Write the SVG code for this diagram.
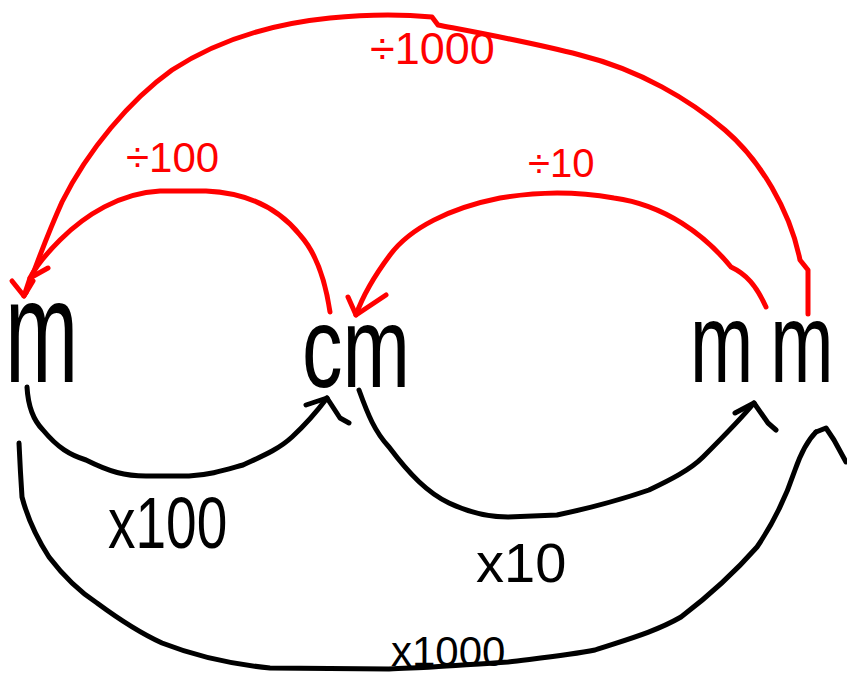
<svg xmlns="http://www.w3.org/2000/svg" width="847" height="677" viewBox="0 0 847 677">
<style>
.lbl{font-family:"Liberation Sans",Arial,sans-serif;}
.node{font-family:"Liberation Sans",Arial,sans-serif;fill:#000;}
.red{fill:#ff0000;}
.blk{fill:#000;}
.c{fill:none;stroke-width:5;stroke-linecap:round;stroke-linejoin:round;}
.cr{stroke:#ff0000;}
.cb{stroke:#000;}
</style>
<rect width="847" height="677" fill="#fff"/>
<g id="connectors">
  <g id="div1000">
    <path class="c cr" d="M808,314 L808,270 L800,260 C790,210 760,160 725,130 C690,100 640,70 580,55 C530,42 480,33 438,25 L432,17 C400,14 360,15 330,18 C270,24 215,42 172,70 C130,100 88,150 62,202 C45,240 35,268 26,293"/>
    <path class="c cr" d="M12,281 L24,296 L33,281"/>
  </g>
  <g id="div100">
    <path class="c cr" d="M330,312 C326,285 318,255 300,235 C280,210 250,193 206,191 L160,191 C120,193 85,215 60,240 C45,255 35,268 30,278"/>
    <path class="c cr" d="M24,296 L30,278 L48,268"/>
  </g>
  <g id="div10">
    <path class="c cr" d="M766,307 C756,285 746,274 731,267 C705,235 665,205 614,198 C580,192 540,191 500,198 C450,208 410,228 390,255 C375,275 362,298 356,315"/>
    <path class="c cr" d="M348,297 L356,315 L386,295"/>
  </g>
  <g id="mul100">
    <path class="c cb" d="M27,387 C28,405 33,420 43,430 C58,448 70,455 86,460 C110,472 125,476 146,476 L189,476 C210,475 225,470 243,465 C260,457 278,450 292,437 C305,425 318,410 327,398"/>
    <path class="c cb" d="M306,405 L327,398 L340,418 L349,423"/>
  </g>
  <g id="mul10">
    <path class="c cb" d="M359,390 C368,415 375,432 389,447 C410,475 428,493 449,503 C470,513 490,517 508,517 L557,515 C590,508 620,500 649,490 C670,480 690,470 703,457 C720,440 740,420 754,403"/>
    <path class="c cb" d="M735,413 L754,403 L768,423 L776,430"/>
  </g>
  <g id="mul1000">
    <path class="c cb" d="M19,443 C20,465 21,482 22,497 C28,520 38,540 49,557 C65,578 80,592 97,603 C120,620 140,633 162,643 C195,656 230,664 270,668 L389,669 C405,668 420,668 432,667 C460,665 485,664 508,662 C540,658 570,655 595,650 C625,640 655,632 681,617 C710,595 735,572 757,547 C772,525 785,500 795,470 C802,450 808,440 816,432"/>
    <path class="c cb" d="M816,432 L826,428 L834,440 L846,462"/>
  </g>
</g>
<g id="node-m">
  <text class="node" font-size="88" transform="translate(5,382) scale(1,1.67)">m</text>
</g>
<g id="node-cm">
  <text class="node" font-size="81" transform="translate(302,387) scale(1,1.42)">cm</text>
</g>
<g id="node-mm">
  <text class="node" font-size="76" transform="translate(690,382) scale(1,1.5)">m<tspan dx="17">m</tspan></text>
</g>
<g id="labels">
  <text class="lbl red" font-size="45" x="370" y="64">÷1000</text>
  <text class="lbl red" font-size="42" x="126" y="172">÷100</text>
  <text class="lbl red" font-size="40" x="528" y="177">÷10</text>
  <text class="lbl blk" font-size="55" transform="translate(108,548) scale(1,1.3)">x100</text>
  <text class="lbl blk" font-size="56" x="476" y="582">x10</text>
  <text class="lbl blk" font-size="42" x="391" y="666">x1000</text>
</g>
</svg>
